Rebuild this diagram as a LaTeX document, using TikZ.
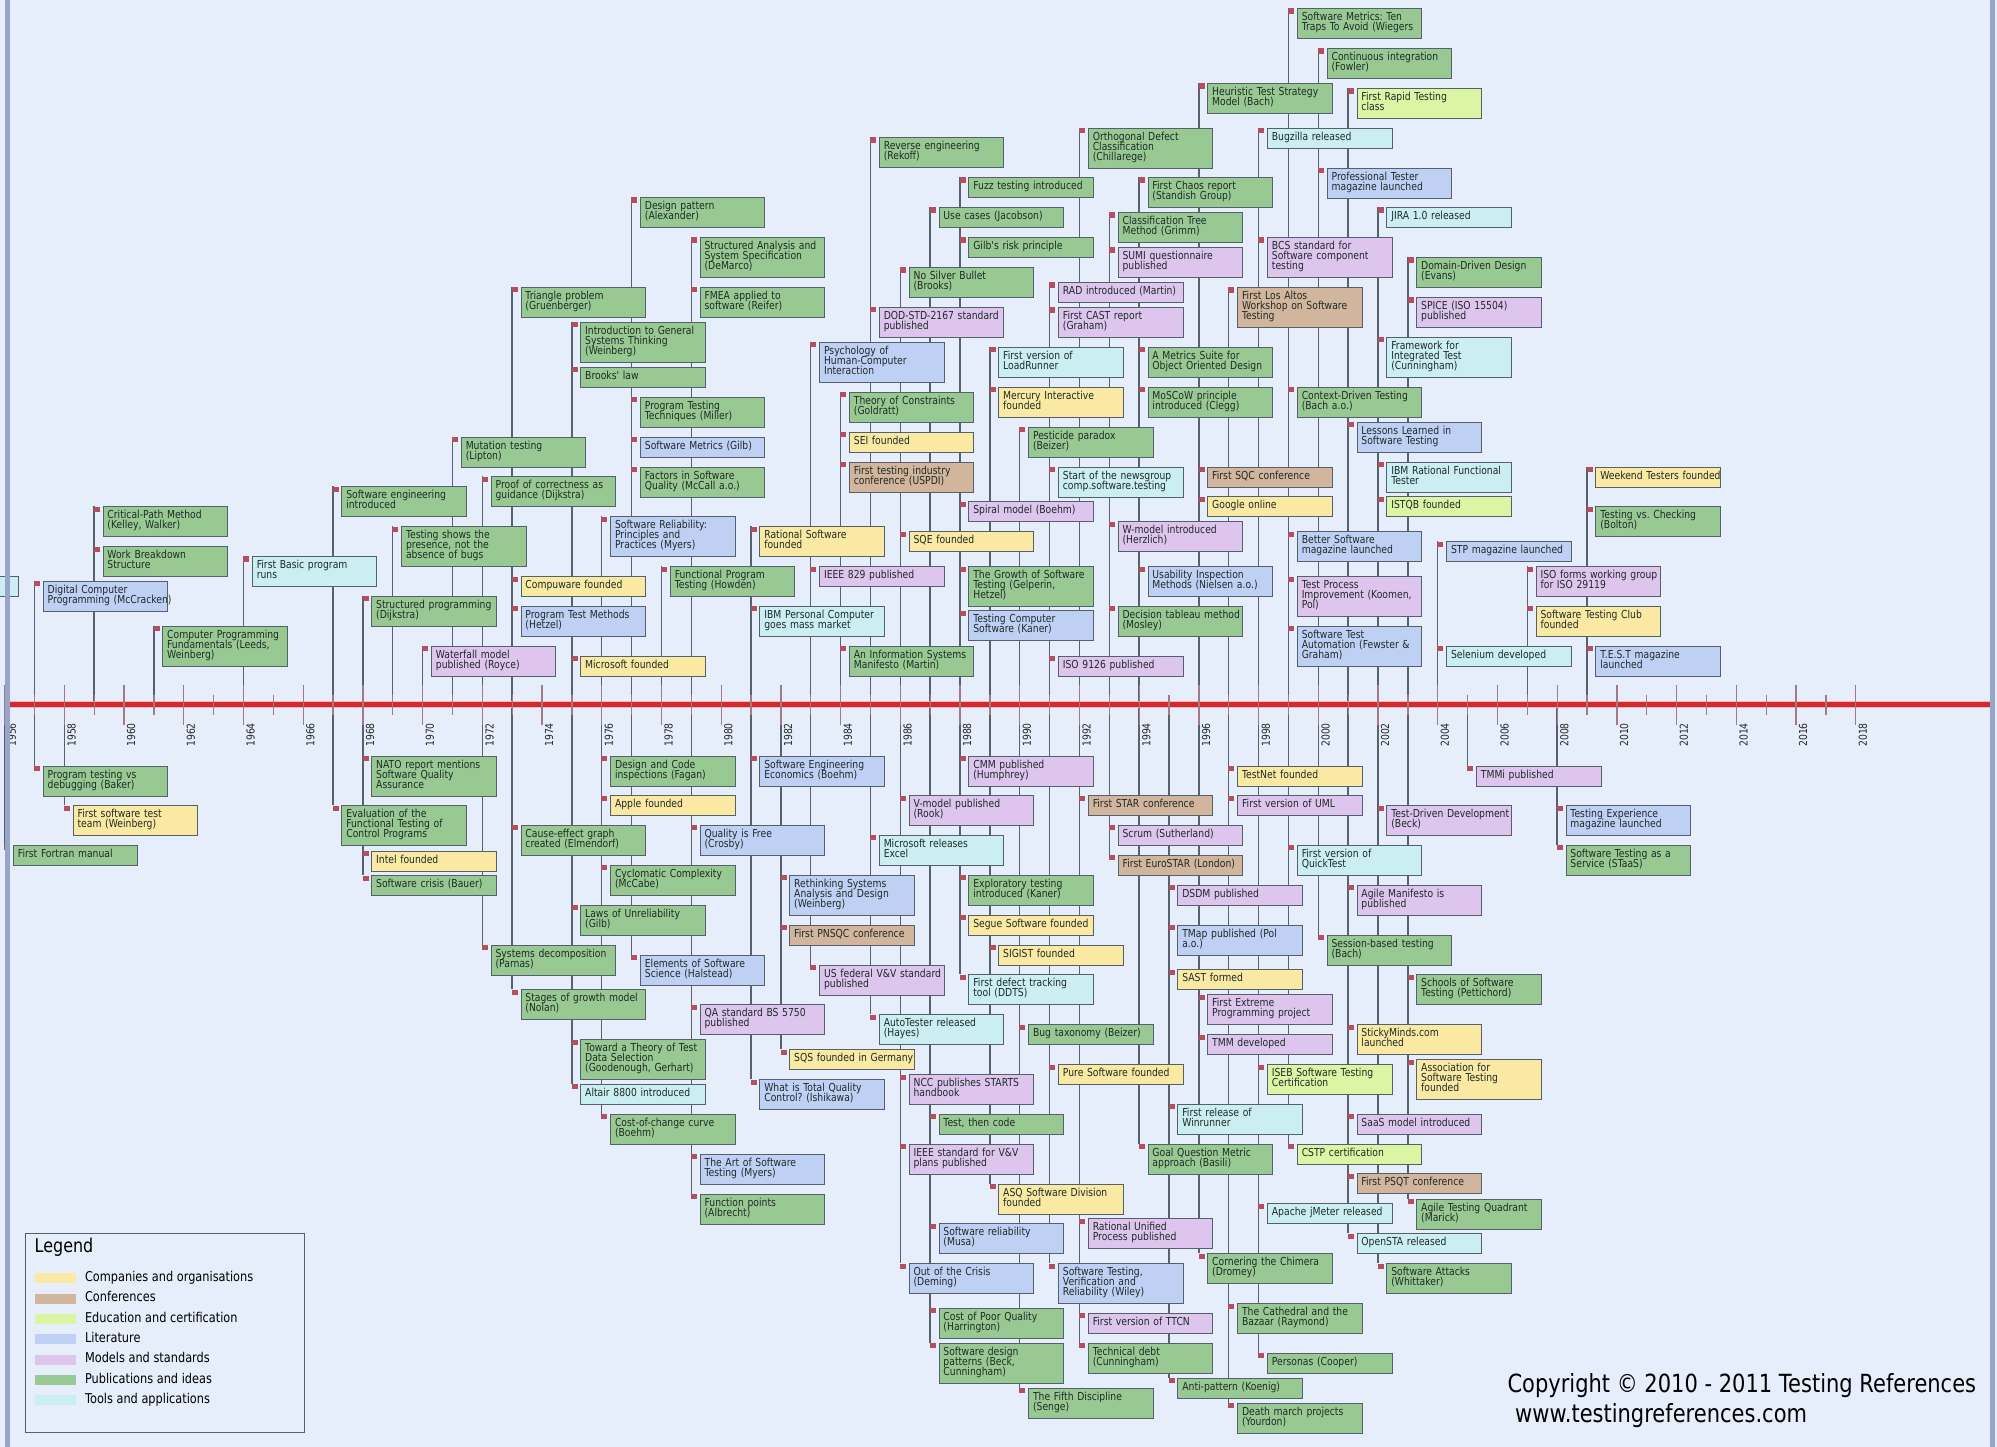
\documentclass[tikz,border=0pt]{standalone}
\usepackage{fontspec}
\usetikzlibrary{positioning}
\newfontfamily\tlfont{DejaVu Sans}[FakeStretch=0.84]
\definecolor{bgc}{HTML}{E6EDFB}
\definecolor{borderc}{HTML}{97A5CC}
\definecolor{framec}{HTML}{56606A}
\definecolor{stemc}{HTML}{57626E}
\definecolor{flagc}{HTML}{B4505E}
\definecolor{textc}{HTML}{1F2B28}
\definecolor{axisc}{HTML}{D22A2F}
\definecolor{haloc}{HTML}{F2B8BC}
\definecolor{tickc}{HTML}{A27A86}
\definecolor{pubc}{HTML}{98C993}
\definecolor{compc}{HTML}{F9E9A2}
\definecolor{confc}{HTML}{D2B59D}
\definecolor{educ}{HTML}{DAF5A4}
\definecolor{litc}{HTML}{BFD0F5}
\definecolor{modc}{HTML}{DDC5EE}
\definecolor{toolc}{HTML}{CAEEF2}
\pgfdeclarelayer{back}
\pgfdeclarelayer{stemlayer}
\pgfsetlayers{back,stemlayer,main}
\begin{document}
\begin{tikzpicture}[x=1pt, y=-1pt,
  ev/.style={draw=framec, line width=0.8pt, anchor=north west, xshift=8.4pt,
    minimum width=124.5pt, text width=115.5pt, inner xsep=4.5pt, inner ysep=5pt,
    align=left, text height=7pt, text=textc,
    font=\tlfont\fontsize{11}{10}\selectfont\frenchspacing,
    execute at begin node={\lineskiplimit=-20pt\rightskip=0pt plus 1fil minus 60pt\linepenalty=5000\relax},
    execute at end node=\strut,
    label={[flagbox]north west:}},
  flagbox/.style={fill=flagc, inner sep=0pt, minimum width=6pt, minimum height=5.5pt,
    anchor=north west, xshift=-8.9pt},
  pub/.style={ev, fill=pubc},
  comp/.style={ev, fill=compc},
  conf/.style={ev, fill=confc},
  edu/.style={ev, fill=educ},
  lit/.style={ev, fill=litc},
  modl/.style={ev, fill=modc},
  tool/.style={ev, fill=toolc},
  stem/.style={draw=stemc, line width=1.5pt},
  tickmark/.style={draw=tickc, line width=1.3pt},
  yearlbl/.style={rotate=90, anchor=east, inner sep=0pt, text=black!85,
    font=\tlfont\fontsize{11}{12}\selectfont},
  swatch/.style={minimum width=40.7pt, minimum height=10pt, inner sep=0pt},
  legtext/.style={inner sep=0pt, text height=9.5pt, text depth=2.8pt,
    font=\tlfont\fontsize{13.5}{15}\selectfont}]

% page
\useasboundingbox (0,0) rectangle (1997,1447);
\begin{pgfonlayer}{back}
\fill[bgc] (0,0) rectangle (1997,1447);
\end{pgfonlayer}

% time axis
\coordinate (axisL) at (10,704.7);
\coordinate (axisR) at (1990,704.7);
\draw[haloc, line width=7.5pt] (axisL) -- (axisR);
\draw[axisc, line width=4.5pt] (axisL) -- (axisR);

\begin{scope}[x=29.857pt, xshift=-1667.4pt]
\foreach \y in {56,...,118} {\pgfmathtruncatemacro\yr{1900+\y}
  \coordinate (y\yr) at (\y,704.7);}
\foreach \y in {57,59,...,117} \draw[tickmark] (\y,694.7) -- (\y,715.3);
\foreach \y in {56,58,...,118} {\pgfmathtruncatemacro\yr{1900+\y}
  \draw[tickmark] (\y,684.7) -- (\y,724.7);
  \node (lbl\yr) [yearlbl] at (\y+0.241,723) {\yr};}

% events above the axis
\node (early) [tool] at (52,576.3) {};
\node (mccracken) [lit] at (57,580.7) {Digital Computer\\Programming (McCracken)};
\node (cpm) [pub] at (59,506.3) {Critical-Path Method\\(Kelley, Walker)};
\node (wbs) [pub] at (59,546.3) {Work Breakdown\\Structure};
\node (cpf) [pub] at (61,625.7) {Computer Programming\\Fundamentals (Leeds,\\Weinberg)};
\node (basic) [tool] at (64,556) {First Basic program\\runs};
\node (seintro) [pub] at (67,486.3) {Software engineering\\introduced};
\node (structprog) [pub] at (68,595.7) {Structured programming\\(Dijkstra)};
\node (bugs) [pub] at (69,526.3) {Testing shows the\\presence, not the\\absence of bugs};
\node (waterfall) [modl] at (70,645.7) {Waterfall model\\published (Royce)};
\node (mutation) [pub] at (71,436.7) {Mutation testing\\(Lipton)};
\node (proof) [pub] at (72,476.3) {Proof of correctness as\\guidance (Dijkstra)};
\node (triangle) [pub] at (73,286.7) {Triangle problem\\(Gruenberger)};
\node (compuware) [comp] at (73,576.3) {Compuware founded};
\node (hetzel) [lit] at (73,605.7) {Program Test Methods\\(Hetzel)};
\node (gensys) [pub] at (75,321.7) {Introduction to General\\Systems Thinking\\(Weinberg)};
\node (brooks) [pub] at (75,366.7) {Brooks' law};
\node (msfound) [comp] at (75,655.7) {Microsoft founded};
\node (myersrel) [lit] at (76,516.3) {Software Reliability:\\Principles and\\Practices (Myers)};
\node (pattern) [pub] at (77,197.3) {Design pattern\\(Alexander)};
\node (miller) [pub] at (77,396.7) {Program Testing\\Techniques (Miller)};
\node (gilbmetrics) [lit] at (77,436.7) {Software Metrics (Gilb)};
\node (mccall) [pub] at (77,466.7) {Factors in Software\\Quality (McCall a.o.)};
\node (howden) [pub] at (78,566.3) {Functional Program\\Testing (Howden)};
\node (demarco) [pub] at (79,237.3) {Structured Analysis and\\System Specification\\(DeMarco)};
\node (fmea) [pub] at (79,286.7) {FMEA applied to\\software (Reifer)};
\node (rational) [comp] at (81,526.3) {Rational Software\\founded};
\node (ibmpc) [tool] at (81,605.7) {IBM Personal Computer\\goes mass market};
\node (hci) [lit] at (83,341.7) {Psychology of\\Human-Computer\\Interaction};
\node (ieee829) [modl] at (83,566.3) {IEEE 829 published};
\node (goldratt) [pub] at (84,391.7) {Theory of Constraints\\(Goldratt)};
\node (sei) [comp] at (84,431.7) {SEI founded};
\node (uspdi) [conf] at (84,461.7) {First testing industry\\conference (USPDI)};
\node (ismanifesto) [pub] at (84,645.7) {An Information Systems\\Manifesto (Martin)};
\node (rekoff) [pub] at (85,137.3) {Reverse engineering\\(Rekoff)};
\node (dodstd) [modl] at (85,306.7) {DOD-STD-2167 standard\\published};
\node (silver) [pub] at (86,267.3) {No Silver Bullet\\(Brooks)};
\node (sqe) [comp] at (86,531.3) {SQE founded};
\node (usecases) [pub] at (87,207.3) {Use cases (Jacobson)};
\node (fuzz) [pub] at (88,177.3) {Fuzz testing introduced};
\node (gilbrisk) [pub] at (88,237.3) {Gilb's risk principle};
\node (spiral) [modl] at (88,501.3) {Spiral model (Boehm)};
\node (growth) [pub] at (88,566.3) {The Growth of Software\\Testing (Gelperin,\\Hetzel)};
\node (kaner) [lit] at (88,610.3) {Testing Computer\\Software (Kaner)};
\node (loadrunner) [tool] at (89,346.7) {First version of\\LoadRunner};
\node (mercury) [comp] at (89,386.7) {Mercury Interactive\\founded};
\node (pesticide) [pub] at (90,426.7) {Pesticide paradox\\(Beizer)};
\node (rad) [modl] at (91,282.3) {RAD introduced (Martin)};
\node (cast) [modl] at (91,307.3) {First CAST report\\(Graham)};
\node (newsgroup) [tool] at (91,466.7) {Start of the newsgroup\\comp.software.testing};
\node (iso9126) [modl] at (91,655.7) {ISO 9126 published};
\node (odc) [pub] at (92,127.7) {Orthogonal Defect\\Classification\\(Chillarege)};
\node (ctm) [pub] at (93,212.3) {Classification Tree\\Method (Grimm)};
\node (sumi) [modl] at (93,247.3) {SUMI questionnaire\\published};
\node (wmodel) [modl] at (93,521.3) {W-model introduced\\(Herzlich)};
\node (tableau) [pub] at (93,605.7) {Decision tableau method\\(Mosley)};
\node (chaos) [pub] at (94,177.3) {First Chaos report\\(Standish Group)};
\node (metricsuite) [pub] at (94,346.7) {A Metrics Suite for\\Object Oriented Design};
\node (moscow) [pub] at (94,386.7) {MoSCoW principle\\introduced (Clegg)};
\node (usability) [lit] at (94,566.3) {Usability Inspection\\Methods (Nielsen a.o.)};
\node (heuristic) [pub] at (96,83.3) {Heuristic Test Strategy\\Model (Bach)};
\node (sqc) [conf] at (96,466.7) {First SQC conference};
\node (google) [comp] at (96,496.3) {Google online};
\node (losaltos) [conf] at (97,287.3) {First Los Altos\\Workshop on Software\\Testing};
\node (bugzilla) [tool] at (98,127.7) {Bugzilla released};
\node (bcs) [modl] at (98,237.3) {BCS standard for\\Software component\\testing};
\node (tentraps) [pub] at (99,8.3) {Software Metrics: Ten\\Traps To Avoid (Wiegers};
\node (cdt) [pub] at (99,386.7) {Context-Driven Testing\\(Bach a.o.)};
\node (bettersw) [lit] at (99,531.3) {Better Software\\magazine launched};
\node (tpi) [modl] at (99,576.3) {Test Process\\Improvement (Koomen,\\Pol)};
\node (sta) [lit] at (99,625.7) {Software Test\\Automation (Fewster \&\\Graham)};
\node (ci) [pub] at (100,48.3) {Continuous integration\\(Fowler)};
\node (proftester) [lit] at (100,167.7) {Professional Tester\\magazine launched};
\node (rst) [edu] at (101,88.3) {First Rapid Testing\\class};
\node (lessons) [lit] at (101,421.7) {Lessons Learned in\\Software Testing};
\node (jira) [tool] at (102,207.3) {JIRA 1.0 released};
\node (fit) [tool] at (102,336.7) {Framework for\\Integrated Test\\(Cunningham)};
\node (rft) [tool] at (102,461.7) {IBM Rational Functional\\Tester};
\node (istqb) [edu] at (102,496.3) {ISTQB founded};
\node (ddd) [pub] at (103,257.3) {Domain-Driven Design\\(Evans)};
\node (spice) [modl] at (103,297.3) {SPICE (ISO 15504)\\published};
\node (stp) [lit] at (104,541.3) {STP magazine launched};
\node (selenium) [tool] at (104,645.7) {Selenium developed};
\node (iso29119) [modl] at (107,566.3) {ISO forms working group\\for ISO 29119};
\node (stc) [comp] at (107,605.7) {Software Testing Club\\founded};
\node (weekend) [comp] at (109,466.7) {Weekend Testers founded};
\node (checking) [pub] at (109,506.3) {Testing vs. Checking\\(Bolton)};
\node (testmag) [lit] at (109,645.7) {T.E.S.T magazine\\launched};

% events below the axis
\node (fortran) [pub] at (56,844.7) {First Fortran manual};
\node (baker) [pub] at (57,765.7) {Program testing vs\\debugging (Baker)};
\node (testteam) [comp] at (58,805.3) {First software test\\team (Weinberg)};
\node (evaluation) [pub] at (67,805.3) {Evaluation of the\\Functional Testing of\\Control Programs};
\node (nato) [pub] at (68,755.7) {NATO report mentions\\Software Quality\\Assurance};
\node (intel) [comp] at (68,850.7) {Intel founded};
\node (crisis) [pub] at (68,875.3) {Software crisis (Bauer)};
\node (parnas) [pub] at (72,944.7) {Systems decomposition\\(Parnas)};
\node (elmendorf) [pub] at (73,824.7) {Cause-effect graph\\created (Elmendorf)};
\node (nolan) [pub] at (73,989.3) {Stages of growth model\\(Nolan)};
\node (unreliab) [pub] at (75,904.7) {Laws of Unreliability\\(Gilb)};
\node (goodenough) [pub] at (75,1039.3) {Toward a Theory of Test\\Data Selection\\(Goodenough, Gerhart)};
\node (altair) [tool] at (75,1083.7) {Altair 8800 introduced};
\node (fagan) [pub] at (76,755.7) {Design and Code\\inspections (Fagan)};
\node (apple) [comp] at (76,795.3) {Apple founded};
\node (mccabe) [pub] at (76,864.7) {Cyclomatic Complexity\\(McCabe)};
\node (costchange) [pub] at (76,1113.7) {Cost-of-change curve\\(Boehm)};
\node (halstead) [lit] at (77,954.7) {Elements of Software\\Science (Halstead)};
\node (crosby) [lit] at (79,824.7) {Quality is Free\\(Crosby)};
\node (bs5750) [modl] at (79,1004.3) {QA standard BS 5750\\published};
\node (artoftest) [lit] at (79,1153.7) {The Art of Software\\Testing (Myers)};
\node (fpoints) [pub] at (79,1193.7) {Function points\\(Albrecht)};
\node (economics) [lit] at (81,755.7) {Software Engineering\\Economics (Boehm)};
\node (ishikawa) [lit] at (81,1079.3) {What is Total Quality\\Control? (Ishikawa)};
\node (rethinking) [lit] at (82,874.7) {Rethinking Systems\\Analysis and Design\\(Weinberg)};
\node (pnsqc) [conf] at (82,924.7) {First PNSQC conference};
\node (sqs) [comp] at (82,1049.3) {SQS founded in Germany};
\node (usvv) [modl] at (83,964.7) {US federal V\&V standard\\published};
\node (excel) [tool] at (85,834.7) {Microsoft releases\\Excel};
\node (autotester) [tool] at (85,1014.3) {AutoTester released\\(Hayes)};
\node (vmodel) [modl] at (86,795.3) {V-model published\\(Rook)};
\node (starts) [modl] at (86,1074.3) {NCC publishes STARTS\\handbook};
\node (ieeevv) [modl] at (86,1143.7) {IEEE standard for V\&V\\plans published};
\node (deming) [lit] at (86,1263.3) {Out of the Crisis\\(Deming)};
\node (testcode) [pub] at (87,1113.7) {Test, then code};
\node (musa) [lit] at (87,1223.3) {Software reliability\\(Musa)};
\node (harrington) [pub] at (87,1307.7) {Cost of Poor Quality\\(Harrington)};
\node (swpatterns) [pub] at (87,1342.7) {Software design\\patterns (Beck,\\Cunningham)};
\node (cmm) [modl] at (88,755.7) {CMM published\\(Humphrey)};
\node (exploratory) [pub] at (88,874.7) {Exploratory testing\\introduced (Kaner)};
\node (segue) [comp] at (88,914.7) {Segue Software founded};
\node (ddts) [tool] at (88,974.3) {First defect tracking\\tool (DDTS)};
\node (sigist) [comp] at (89,944.7) {SIGIST founded};
\node (asq) [comp] at (89,1183.7) {ASQ Software Division\\founded};
\node (bugtax) [pub] at (90,1024.3) {Bug taxonomy (Beizer)};
\node (senge) [pub] at (90,1387.7) {The Fifth Discipline\\(Senge)};
\node (puresw) [comp] at (91,1064.3) {Pure Software founded};
\node (stvr) [lit] at (91,1263.3) {Software Testing,\\Verification and\\Reliability (Wiley)};
\node (star) [conf] at (92,795.3) {First STAR conference};
\node (rup) [modl] at (92,1218.3) {Rational Unified\\Process published};
\node (ttcn) [modl] at (92,1312.7) {First version of TTCN};
\node (techdebt) [pub] at (92,1342.7) {Technical debt\\(Cunningham)};
\node (scrum) [modl] at (93,824.7) {Scrum (Sutherland)};
\node (eurostar) [conf] at (93,854.7) {First EuroSTAR (London)};
\node (gqm) [pub] at (94,1143.7) {Goal Question Metric\\approach (Basili)};
\node (dsdm) [modl] at (95,884.7) {DSDM published};
\node (tmap) [lit] at (95,924.7) {TMap published (Pol\\a.o.)};
\node (sast) [comp] at (95,969.3) {SAST formed};
\node (winrunner) [tool] at (95,1103.7) {First release of\\Winrunner};
\node (antipattern) [pub] at (95,1377.7) {Anti-pattern (Koenig)};
\node (xp) [modl] at (96,994.3) {First Extreme\\Programming project};
\node (tmm) [modl] at (96,1034.3) {TMM developed};
\node (chimera) [pub] at (96,1253.3) {Cornering the Chimera\\(Dromey)};
\node (testnet) [comp] at (97,765.7) {TestNet founded};
\node (uml) [modl] at (97,795.3) {First version of UML};
\node (cathedral) [pub] at (97,1303.3) {The Cathedral and the\\Bazaar (Raymond)};
\node (deathmarch) [pub] at (97,1402.7) {Death march projects\\(Yourdon)};
\node (iseb) [edu] at (98,1064.3) {ISEB Software Testing\\Certification};
\node (jmeter) [tool] at (98,1203.3) {Apache jMeter released};
\node (personas) [pub] at (98,1352.7) {Personas (Cooper)};
\node (quicktest) [tool] at (99,844.7) {First version of\\QuickTest};
\node (cstp) [edu] at (99,1143.7) {CSTP certification};
\node (sbtm) [pub] at (100,934.7) {Session-based testing\\(Bach)};
\node (agilemanifesto) [modl] at (101,884.7) {Agile Manifesto is\\published};
\node (stickyminds) [comp] at (101,1024.3) {StickyMinds.com\\launched};
\node (saas) [modl] at (101,1113.7) {SaaS model introduced};
\node (psqt) [conf] at (101,1173.3) {First PSQT conference};
\node (opensta) [tool] at (101,1233.3) {OpenSTA released};
\node (tdd) [modl] at (102,805.3) {Test-Driven Development\\(Beck)};
\node (attacks) [pub] at (102,1263.3) {Software Attacks\\(Whittaker)};
\node (schools) [pub] at (103,974.3) {Schools of Software\\Testing (Pettichord)};
\node (ast) [comp] at (103,1059.3) {Association for\\Software Testing\\founded};
\node (quadrant) [pub] at (103,1198.7) {Agile Testing Quadrant\\(Marick)};
\node (tmmi) [modl] at (105,765.7) {TMMi published};
\node (testexp) [lit] at (108,805.3) {Testing Experience\\magazine launched};
\node (staas) [pub] at (108,844.7) {Software Testing as a\\Service (STaaS)};

% stems, one per year
\begin{pgfonlayer}{stemlayer}
\draw[stem] (y1956) -- (y1956 |- fortran.north);
\draw[stem] (y1957 |- mccracken.north) -- (y1957 |- baker.north);
\draw[stem] (y1958) -- (y1958 |- testteam.north);
\draw[stem] (y1959 |- cpm.north) -- (y1959);
\draw[stem] (y1961 |- cpf.north) -- (y1961);
\draw[stem] (y1964 |- basic.north) -- (y1964);
\draw[stem] (y1967 |- seintro.north) -- (y1967 |- evaluation.north);
\draw[stem] (y1968 |- structprog.north) -- (y1968 |- crisis.north);
\draw[stem] (y1969 |- bugs.north) -- (y1969);
\draw[stem] (y1970 |- waterfall.north) -- (y1970);
\draw[stem] (y1971 |- mutation.north) -- (y1971);
\draw[stem] (y1972 |- proof.north) -- (y1972 |- parnas.north);
\draw[stem] (y1973 |- triangle.north) -- (y1973 |- nolan.north);
\draw[stem] (y1975 |- gensys.north) -- (y1975 |- altair.north);
\draw[stem] (y1976 |- myersrel.north) -- (y1976 |- costchange.north);
\draw[stem] (y1977 |- pattern.north) -- (y1977 |- halstead.north);
\draw[stem] (y1978 |- howden.north) -- (y1978);
\draw[stem] (y1979 |- demarco.north) -- (y1979 |- fpoints.north);
\draw[stem] (y1981 |- rational.north) -- (y1981 |- ishikawa.north);
\draw[stem] (y1982) -- (y1982 |- sqs.north);
\draw[stem] (y1983 |- hci.north) -- (y1983 |- usvv.north);
\draw[stem] (y1984 |- goldratt.north) -- (y1984);
\draw[stem] (y1985 |- rekoff.north) -- (y1985 |- autotester.north);
\draw[stem] (y1986 |- silver.north) -- (y1986 |- deming.north);
\draw[stem] (y1987 |- usecases.north) -- (y1987 |- swpatterns.north);
\draw[stem] (y1988 |- fuzz.north) -- (y1988 |- ddts.north);
\draw[stem] (y1989 |- loadrunner.north) -- (y1989 |- asq.north);
\draw[stem] (y1990 |- pesticide.north) -- (y1990 |- senge.north);
\draw[stem] (y1991 |- rad.north) -- (y1991 |- stvr.north);
\draw[stem] (y1992 |- odc.north) -- (y1992 |- techdebt.north);
\draw[stem] (y1993 |- ctm.north) -- (y1993 |- eurostar.north);
\draw[stem] (y1994 |- chaos.north) -- (y1994 |- gqm.north);
\draw[stem] (y1995) -- (y1995 |- antipattern.north);
\draw[stem] (y1996 |- heuristic.north) -- (y1996 |- chimera.north);
\draw[stem] (y1997 |- losaltos.north) -- (y1997 |- deathmarch.north);
\draw[stem] (y1998 |- bugzilla.north) -- (y1998 |- personas.north);
\draw[stem] (y1999 |- tentraps.north) -- (y1999 |- cstp.north);
\draw[stem] (y2000 |- ci.north) -- (y2000 |- sbtm.north);
\draw[stem] (y2001 |- rst.north) -- (y2001 |- opensta.north);
\draw[stem] (y2002 |- jira.north) -- (y2002 |- attacks.north);
\draw[stem] (y2003 |- ddd.north) -- (y2003 |- quadrant.north);
\draw[stem] (y2004 |- stp.north) -- (y2004);
\draw[stem] (y2005) -- (y2005 |- tmmi.north);
\draw[stem] (y2007 |- iso29119.north) -- (y2007);
\draw[stem] (y2008) -- (y2008 |- staas.north);
\draw[stem] (y2009 |- weekend.north) -- (y2009);
\end{pgfonlayer}
\end{scope}

% legend
\node (legendbox) [draw=framec, line width=0.8pt, anchor=north west, inner sep=0pt,
  minimum width=278.7pt, minimum height=198.7pt] at (25.3,1233.3) {};
\node (legendtitle) [anchor=base west, inner sep=0pt,
  font=\tlfont\fontsize{19}{21}\selectfont] at (34.5,1252.7) {Legend};
\node (sw1) [swatch, fill=compc] at (55.3,1278.3) {};
\node (sw2) [swatch, fill=confc, below=9.9pt of sw1] {};
\node (sw3) [swatch, fill=educ, below=9.9pt of sw2] {};
\node (sw4) [swatch, fill=litc, below=9.9pt of sw3] {};
\node (sw5) [swatch, fill=modc, below=9.9pt of sw4] {};
\node (sw6) [swatch, fill=pubc, below=9.9pt of sw5] {};
\node (sw7) [swatch, fill=toolc, below=9.9pt of sw6] {};
\node (lt1) [legtext, right=9pt of sw1] {Companies and organisations};
\node (lt2) [legtext, right=9pt of sw2] {Conferences};
\node (lt3) [legtext, right=9pt of sw3] {Education and certification};
\node (lt4) [legtext, right=9pt of sw4] {Literature};
\node (lt5) [legtext, right=9pt of sw5] {Models and standards};
\node (lt6) [legtext, right=9pt of sw6] {Publications and ideas};
\node (lt7) [legtext, right=9pt of sw7] {Tools and applications};

% copyright
\node (copyright) [anchor=base west, inner sep=0pt,
  font=\tlfont\fontsize{25}{28}\selectfont] at (1507.3,1392.7) {Copyright © 2010 - 2011 Testing References};
\node (website) [anchor=base west, inner sep=0pt,
  font=\tlfont\fontsize{25}{28}\selectfont] at (1515,1422.7) {www.testingreferences.com};

% frame
\fill[borderc] (5,0) rectangle (10,1447);
\fill[borderc] (1990,0) rectangle (1995,1447);
\end{tikzpicture}
\end{document}
